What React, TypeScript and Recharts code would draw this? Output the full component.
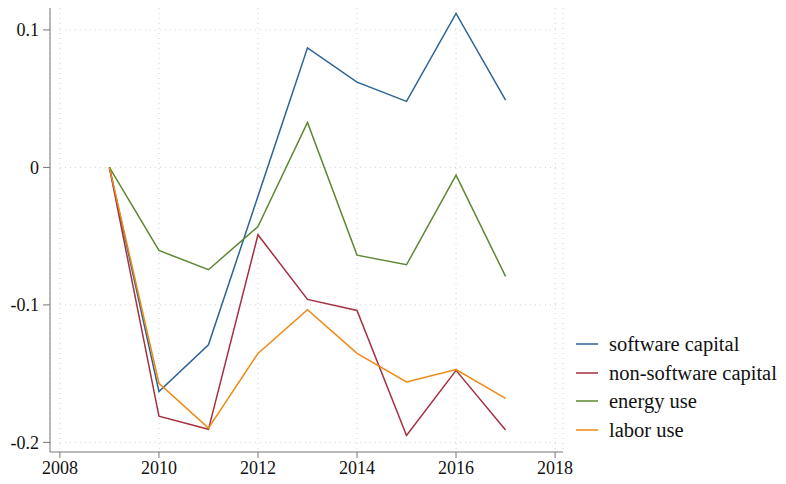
import { CartesianGrid, Line, LineChart, ReferenceLine, XAxis, YAxis } from "recharts";

const years = [2009, 2010, 2011, 2012, 2013, 2014, 2015, 2016, 2017];
const softwareCapital = [0, -0.163, -0.129, -0.021, 0.087, 0.062, 0.048, 0.112, 0.049];
const nonSoftwareCapital = [0, -0.181, -0.1905, -0.049, -0.096, -0.104, -0.195, -0.1476, -0.191];
const energyUse = [0, -0.0604, -0.0744, -0.043, 0.0327, -0.0638, -0.0708, -0.0056, -0.0793];
const laborUse = [0, -0.157, -0.1896, -0.1353, -0.1035, -0.1353, -0.156, -0.147, -0.168];

const xTicks = [2008, 2010, 2012, 2014, 2016, 2018];
const yTicks = [-0.2, -0.1, 0, 0.1];

const series = [
  { key: "software", name: "software capital", color: "#2c6396" },
  { key: "nonSoftware", name: "non-software capital", color: "#a3313f" },
  { key: "energy", name: "energy use", color: "#5e8731" },
  { key: "labor", name: "labor use", color: "#ee8a12" },
];

const data = years.map((year, i) => ({
  year,
  software: softwareCapital[i],
  nonSoftware: nonSoftwareCapital[i],
  energy: energyUse[i],
  labor: laborUse[i],
}));

const font = "Times New Roman";

function LegendBox() {
  return (
    <div
      style={{
        position: "absolute",
        left: 576,
        top: 330,
        width: 210,
        fontFamily: font,
        fontSize: 20.5,
        color: "#111",
      }}
    >
      {series.map((s) => (
        <div key={s.key} style={{ display: "flex", alignItems: "center", height: 28.5 }}>
          <svg width={22} height={4} style={{ marginRight: 11, flex: "none" }}>
            <line x1={0} x2={22} y1={2} y2={2} stroke={s.color} strokeWidth={1.5} />
          </svg>
          <span style={{ whiteSpace: "nowrap", lineHeight: 1 }}>{s.name}</span>
        </div>
      ))}
    </div>
  );
}

export default function App() {
  return (
    <div style={{ position: "relative", margin: -8, width: 786, height: 484 }}>
      <LineChart width={786} height={484} data={data} margin={{ top: 3, right: 223, bottom: 2, left: 0 }}>
        <CartesianGrid vertical horizontal={false} stroke="#d0d0d0" strokeDasharray="1 4" />
        {yTicks.map((y) => (
          <ReferenceLine
            key={y}
            segment={[{ x: 2008, y }, { x: 2018.1, y }]}
            stroke="#d0d0d0"
            strokeDasharray="1 4"
          />
        ))}
        <XAxis
          dataKey="year"
          type="number"
          domain={[2007.8, 2018.16]}
          ticks={xTicks}
          height={30}
          tickSize={6}
          tickMargin={3}
          stroke="#777"
          tick={{ fill: "#111", fontFamily: font, fontSize: 18 }}
        />
        <YAxis
          type="number"
          domain={[-0.207, 0.1196]}
          ticks={yTicks}
          width={50}
          tickSize={7}
          tickMargin={4}
          stroke="#777"
          tickFormatter={(v: number) => (v === 0 ? "0" : String(Number(v.toFixed(1))))}
          tick={{ fill: "#111", fontFamily: font, fontSize: 18 }}
        />
        {series.map((s) => (
          <Line
            key={s.key}
            type="linear"
            dataKey={s.key}
            name={s.name}
            stroke={s.color}
            strokeWidth={1.5}
            dot={false}
            activeDot={false}
            isAnimationActive={false}
          />
        ))}
      </LineChart>
      <LegendBox />
    </div>
  );
}
